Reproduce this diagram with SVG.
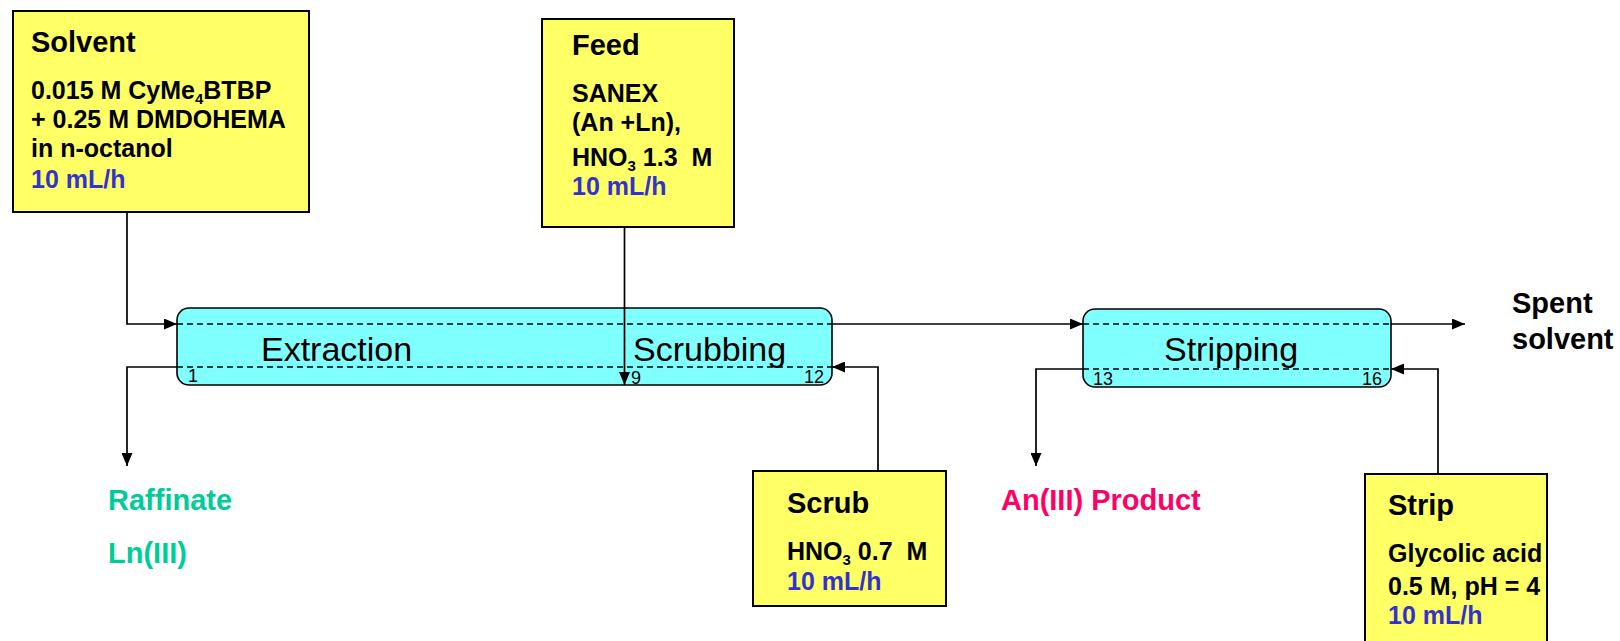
<svg xmlns="http://www.w3.org/2000/svg" width="1620" height="641" viewBox="0 0 1620 641">
  <style>
    text { font-family: "Liberation Sans", Arial, sans-serif; }
    .feedbox { fill: #ffff66; stroke: #000; stroke-width: 2; }
    .stage { fill: #80ffff; stroke: #000; stroke-width: 1.6; }
    .dash { fill: none; stroke: #000; stroke-width: 1.3; stroke-dasharray: 6 4; }
    .title { font-weight: bold; font-size: 29px; fill: #000; }
    .body { font-weight: bold; font-size: 25px; fill: #000; }
    .flow { font-weight: bold; font-size: 25px; fill: #3333cc; }
    .sub { font-size: 15px; }
    .stagelabel { font-size: 34px; fill: #000; }
    .num { font-size: 18px; fill: #000; }
    .out { font-weight: bold; font-size: 29px; }
    .conn { fill: none; stroke: #000; stroke-width: 1.7; marker-end: url(#arrow); }
  </style>
  <defs>
    <marker id="arrow" markerUnits="userSpaceOnUse" viewBox="0 0 13 11" refX="13" refY="5.5" markerWidth="13" markerHeight="11" orient="auto">
      <path d="M0,0 L13,5.5 L0,11 z" fill="#000"/>
    </marker>
  </defs>

  <rect width="1620" height="641" fill="#fff"/>

  <!-- Extraction / scrubbing battery, stages 1-12 -->
  <g id="extraction-scrubbing">
    <rect class="stage" x="177" y="308" width="655" height="77" rx="12" ry="12"/>
    <line class="dash" x1="177" y1="324" x2="832" y2="324"/>
    <line class="dash" x1="177" y1="367" x2="832" y2="367"/>
    <text class="stagelabel" x="261" y="361">Extraction</text>
    <text class="stagelabel" x="633" y="361">Scrubbing</text>
    <text class="num" x="188" y="382">1</text>
    <text class="num" x="631" y="384">9</text>
    <text class="num" x="824" y="383" text-anchor="end">12</text>
  </g>

  <!-- Stripping battery, stages 13-16 -->
  <g id="stripping">
    <rect class="stage" x="1083" y="309" width="308" height="78" rx="12" ry="12"/>
    <line class="dash" x1="1083" y1="324" x2="1391" y2="324"/>
    <line class="dash" x1="1083" y1="369" x2="1391" y2="369"/>
    <text class="stagelabel" x="1164" y="361">Stripping</text>
    <text class="num" x="1093" y="385">13</text>
    <text class="num" x="1382" y="385" text-anchor="end">16</text>
  </g>

  <g id="solvent">
    <rect class="feedbox" x="13" y="11" width="296" height="201"/>
    <text class="title" x="31" y="52">Solvent</text>
    <text class="body" x="31" y="99">0.015 M CyMe<tspan class="sub" dy="5">4</tspan><tspan dy="-5">BTBP</tspan></text>
    <text class="body" x="31" y="128">+ 0.25 M DMDOHEMA</text>
    <text class="body" x="31" y="157">in n-octanol</text>
    <text class="flow" x="31" y="188">10 mL/h</text>
  </g>

  <g id="feed">
    <rect class="feedbox" x="542" y="19" width="192" height="208"/>
    <text class="title" x="572" y="55">Feed</text>
    <text class="body" x="572" y="102">SANEX</text>
    <text class="body" x="572" y="131">(An +Ln),</text>
    <text class="body" x="572" y="166">HNO<tspan class="sub" dy="5">3</tspan><tspan dy="-5"> 1.3 &#160;M</tspan></text>
    <text class="flow" x="572" y="195">10 mL/h</text>
  </g>

  <g id="scrub">
    <rect class="feedbox" x="753" y="471" width="193" height="135"/>
    <text class="title" x="787" y="513">Scrub</text>
    <text class="body" x="787" y="560">HNO<tspan class="sub" dy="5">3</tspan><tspan dy="-5"> 0.7 &#160;M</tspan></text>
    <text class="flow" x="787" y="590">10 mL/h</text>
  </g>

  <g id="strip">
    <rect class="feedbox" x="1365" y="474" width="182" height="190"/>
    <text class="title" x="1388" y="515">Strip</text>
    <text class="body" x="1388" y="562">Glycolic acid</text>
    <text class="body" x="1388" y="595">0.5 M, pH = 4</text>
    <text class="flow" x="1388" y="624">10 mL/h</text>
  </g>

  <g id="raffinate">
    <text class="out" x="108" y="510" fill="#00cc99">Raffinate</text>
    <text class="out" x="108" y="563" fill="#00cc99">Ln(III)</text>
  </g>

  <g id="an-product">
    <text class="out" x="1001" y="510" fill="#ff0066">An(III) Product</text>
  </g>

  <g id="spent-solvent">
    <text class="out" x="1512" y="313" fill="#000">Spent</text>
    <text class="out" x="1512" y="349" fill="#000">solvent</text>
  </g>

  <!-- Flow lines -->
  <g id="connectors">
    <path class="conn" d="M127,212 V324 H177"/>
    <path class="conn" d="M624.5,227 V385"/>
    <path class="conn" d="M177,367 H127 V466"/>
    <path class="conn" d="M832,324 H1083"/>
    <path class="conn" d="M878,471 V367 H832"/>
    <path class="conn" d="M1083,369 H1036 V466"/>
    <path class="conn" d="M1438,474 V369 H1391"/>
    <path class="conn" d="M1391,324 H1465"/>
  </g>
</svg>
